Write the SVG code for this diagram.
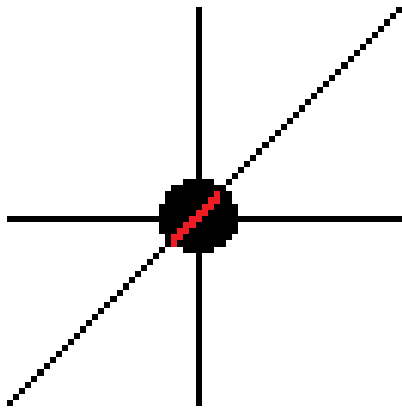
<svg xmlns="http://www.w3.org/2000/svg" width="402" height="409" viewBox="0 0 402 409">
<style>
.px{shape-rendering:crispEdges}
.blk{fill:#000}
.red{fill:#ed1c24}
</style>
<rect width="402" height="409" fill="#fff"/>
<g class="px" transform="translate(1,1) scale(6.08,6.14)">
<g id="axes" class="blk">
<rect id="vertical-axis" x="32" y="1" width="1" height="65"/>
<rect id="horizontal-axis" x="1" y="35" width="65" height="1"/>
</g>
<path id="diagonal" class="blk" d="M1 65h1v1h-1z
m1-1h1v1h-1zm1-1h1v1h-1zm1-1h1v1h-1zm1-1h1v1h-1zm1-1h1v1h-1zm1-1h1v1h-1zm1-1h1v1h-1zm1-1h1v1h-1z
m1-1h1v1h-1zm1-1h1v1h-1zm1-1h1v1h-1zm1-1h1v1h-1zm1-1h1v1h-1zm1-1h1v1h-1zm1-1h1v1h-1zm1-1h1v1h-1z
m1-1h1v1h-1zm1-1h1v1h-1zm1-1h1v1h-1zm1-1h1v1h-1zm1-1h1v1h-1zm1-1h1v1h-1zm1-1h1v1h-1zm1-1h1v1h-1z
m1-1h1v1h-1zm1-1h1v1h-1zm1-1h1v1h-1zm1-1h1v1h-1zm1-1h1v1h-1zm1-1h1v1h-1zm1-1h1v1h-1zm1-1h1v1h-1z
m1-1h1v1h-1zm1-1h1v1h-1zm1-1h1v1h-1zm1-1h1v1h-1zm1-1h1v1h-1zm1-1h1v1h-1zm1-1h1v1h-1zm1-1h1v1h-1z
m1-1h1v1h-1zm1-1h1v1h-1zm1-1h1v1h-1zm1-1h1v1h-1zm1-1h1v1h-1zm1-1h1v1h-1zm1-1h1v1h-1zm1-1h1v1h-1z
m1-1h1v1h-1zm1-1h1v1h-1zm1-1h1v1h-1zm1-1h1v1h-1zm1-1h1v1h-1zm1-1h1v1h-1zm1-1h1v1h-1zm1-1h1v1h-1z
m1-1h1v1h-1zm1-1h1v1h-1zm1-1h1v1h-1zm1-1h1v1h-1zm1-1h1v1h-1zm1-1h1v1h-1zm1-1h1v1h-1zm1-1h1v1h-1z"/>
<g id="point">
<path class="blk" d="M30 29H35V30H37V31H38V33H39V38H38V39H37V40H35V41H30V40H28V39H27V38H26V33H27V31H28V30H30Z"/>
<path class="red" d="M28 38h1v2h-1z m1-1h1v2h-1zm1-1h1v2h-1zm1-1h1v2h-1zm1-1h1v2h-1zm1-1h1v2h-1zm1-1h1v2h-1zm1-1h1v2h-1z"/>
</g>
</g>
</svg>
